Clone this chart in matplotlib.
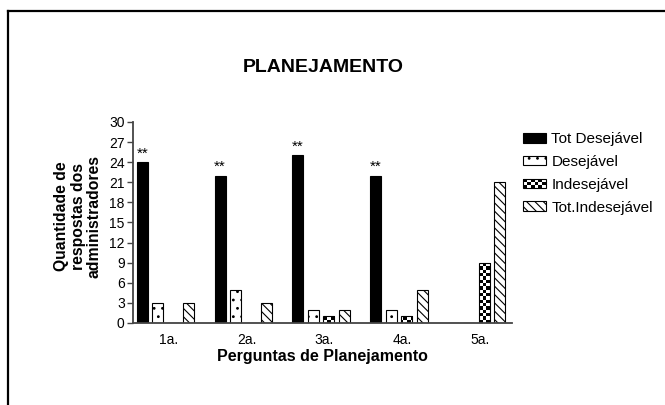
import numpy as np
import matplotlib
matplotlib.use("Agg")
import matplotlib.pyplot as plt
from matplotlib.patches import Rectangle
from matplotlib.lines import Line2D
from matplotlib.legend_handler import HandlerBase

plt.rcParams['font.family'] = ['Liberation Sans', 'DejaVu Sans']
plt.rcParams['hatch.linewidth'] = 0.8

categories = ["1a.", "2a.", "3a.", "4a.", "5a."]
series_names = ["Tot Desejável", "Desejável", "Indesejável", "Tot.Indesejável"]
tot_desejavel = [24, 22, 25, 22, 0]
desejavel = [3, 5, 2, 2, 0]
indesejavel = [0, 0, 1, 1, 9]
tot_indesejavel = [3, 3, 2, 5, 21]
marked = ["**", "**", "**", "**", ""]
yticks = list(range(0, 31, 3))

W, H = 665, 405
fig = plt.figure(figsize=(W / 100, H / 100), dpi=100)
ax = fig.add_axes([133 / W, 1 - 323 / H, (512 - 133) / W, (323 - 122) / H])

x = np.arange(len(categories))
bw = 0.142
step = 0.2
offs = [-1.5 * step, -0.5 * step, 0.5 * step, 1.5 * step]

b1 = ax.bar(x + offs[0], tot_desejavel, bw, color='black', edgecolor='black', linewidth=0.8)
b2 = ax.bar(x + offs[1], desejavel, bw, color='white', edgecolor='black', linewidth=0.8, hatch='..')
b3 = ax.bar(x + offs[2], indesejavel, bw, color='white', edgecolor='black', linewidth=0.8)
b4 = ax.bar(x + offs[3], tot_indesejavel, bw, color='white', edgecolor='black', linewidth=0.8, hatch='\\\\\\\\')

ax.set_xlim(-0.42, 4.456)
ax.set_ylim(0, 30)

# checkerboard fill for Indesejável bars
ncx, ncy = 115, 61
checker = (np.add.outer(np.arange(ncy), np.arange(ncx)) % 2).astype(float)
for rect, v in zip(b3, indesejavel):
    if v > 0:
        im = ax.imshow(checker, cmap='gray_r', extent=(-0.42, 4.456, 0, 30), aspect='auto',
                       interpolation='nearest', vmin=0, vmax=1, zorder=rect.get_zorder() - 0.01)
        im.set_clip_path(rect)
        rect.set_facecolor('none')
ax.set_xlim(-0.42, 4.456)
ax.set_ylim(0, 30)

for rect, m in zip(b1, marked):
    if m:
        ax.annotate(m, (rect.get_x() + rect.get_width() / 2, rect.get_height()),
                    xytext=(0, 1), textcoords='offset points', ha='center', va='bottom',
                    fontsize=11)

ax.spines['top'].set_visible(False)
ax.spines['right'].set_visible(False)
for s in ('left', 'bottom'):
    ax.spines[s].set_color('#444444')
    ax.spines[s].set_linewidth(1.3)
ax.set_yticks(yticks)
ax.tick_params(axis='y', length=4, width=1, color='#444444', labelsize=10, pad=2)
ax.set_xticks(x + 0.04)
ax.set_xticklabels(categories)
ax.tick_params(axis='x', length=0, labelsize=10, pad=7)
ax.set_xlabel("Perguntas de Planejamento", fontsize=11.5, fontweight='bold', labelpad=2)

fig.text(323 / W, 1 - 67 / H, "PLANEJAMENTO", ha='center', va='center', fontsize=14, fontweight='bold')
fig.text(78 / W, 1 - 216 / H, "Quantidade de\nrespostas dos\nadministradores", rotation=90,
         ha='center', va='center', fontsize=11.3, fontweight='bold', linespacing=1.12)


class CheckerHandler(HandlerBase):
    def create_artists(self, legend, orig_handle, xdescent, ydescent, width, height, fontsize, trans):
        arts = []
        n, m = 6, 3
        cw, ch = width / n, height / m
        for i in range(n):
            for j in range(m):
                if (i + j) % 2 == 0:
                    arts.append(Rectangle((-xdescent + i * cw, -ydescent + j * ch), cw, ch,
                                          facecolor='black', edgecolor='none', transform=trans))
        arts.append(Rectangle((-xdescent, -ydescent), width, height, facecolor='none',
                              edgecolor='black', linewidth=0.8, transform=trans))
        return arts


h1 = Rectangle((0, 0), 1, 1, facecolor='black', edgecolor='black', linewidth=0.8)
h2 = Rectangle((0, 0), 1, 1, facecolor='white', edgecolor='black', linewidth=0.8, hatch='..')
h3 = Rectangle((0, 0), 1, 1, facecolor='white', edgecolor='black', linewidth=0.8)
h4 = Rectangle((0, 0), 1, 1, facecolor='white', edgecolor='black', linewidth=0.8, hatch='\\\\\\\\')
fig.legend([h1, h2, h3, h4], series_names, loc='upper left',
           bbox_to_anchor=(520 / W, 1 - 129 / H), frameon=False, fontsize=11,
           handlelength=1.5, handleheight=0.6, handletextpad=0.35, labelspacing=0.58,
           borderaxespad=0, borderpad=0.2, handler_map={h3: CheckerHandler()})

fig.add_artist(Line2D([8 / W, 8 / W], [0, 1 - 11 / H], color='black', linewidth=1.6, transform=fig.transFigure))
fig.add_artist(Line2D([8 / W, 1], [1 - 11 / H, 1 - 11 / H], color='black', linewidth=1.6, transform=fig.transFigure))

fig.savefig("out.png", dpi=100)
